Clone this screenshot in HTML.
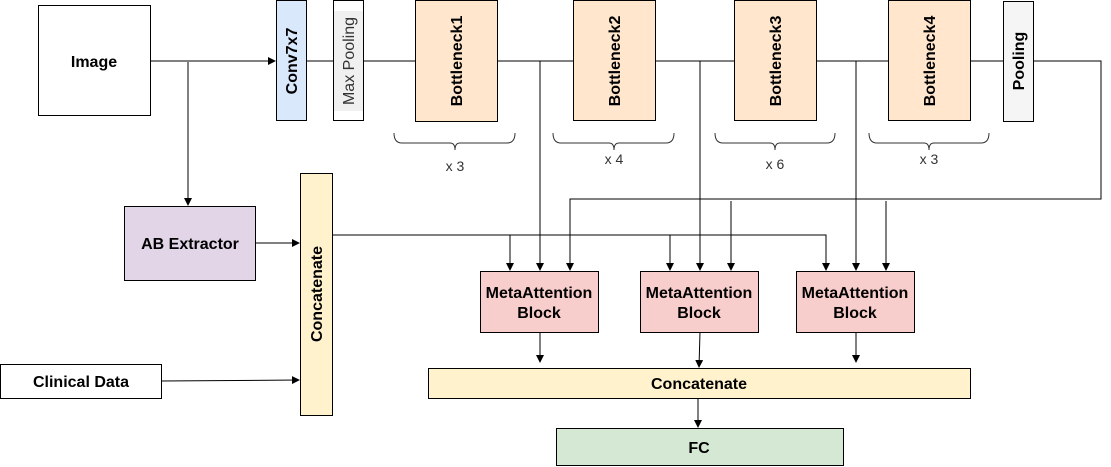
<!DOCTYPE html>
<html><head><meta charset="utf-8"><style>
html,body{margin:0;padding:0;background:#fff;}
svg{display:block;}
text{font-family:"Liberation Sans",Arial,sans-serif;font-size:16px;font-weight:bold;fill:#000;}
.n{font-weight:normal;fill:#333;font-size:14px;}
</style></head><body>
<svg width="1111" height="467" viewBox="0 0 1111 467" xmlns="http://www.w3.org/2000/svg">
<defs><marker id="a" markerWidth="8" markerHeight="8" refX="7" refY="4" orient="auto" markerUnits="userSpaceOnUse"><path d="M0,0 L8,4 L0,8 Z" fill="#000"/></marker></defs>
<g stroke="#000" stroke-width="1" fill="none">
<line x1="150" y1="61" x2="275" y2="61" marker-end="url(#a)"/>
<line x1="306" y1="61" x2="333" y2="61"/>
<line x1="363" y1="61" x2="415" y2="61"/>
<line x1="497" y1="61" x2="573" y2="61"/>
<line x1="655" y1="61" x2="734" y2="61"/>
<line x1="816" y1="61" x2="888" y2="61"/>
<line x1="970" y1="61" x2="1003" y2="61"/>
<polyline points="1033,61 1101,61 1101,199 570,199 570,270" marker-end="url(#a)"/>
<line x1="188" y1="62" x2="188" y2="205" marker-end="url(#a)"/>
<line x1="256" y1="243" x2="299" y2="243" marker-end="url(#a)"/>
<line x1="161" y1="381" x2="299" y2="380" marker-end="url(#a)"/>
<polyline points="333,235 826,235 826,270" marker-end="url(#a)"/>
<line x1="510" y1="235" x2="510" y2="270" marker-end="url(#a)"/>
<line x1="670" y1="235" x2="670" y2="270" marker-end="url(#a)"/>
<line x1="540" y1="61" x2="540" y2="270" marker-end="url(#a)"/>
<line x1="700" y1="61" x2="700" y2="270" marker-end="url(#a)"/>
<line x1="856" y1="61" x2="856" y2="270" marker-end="url(#a)"/>
<line x1="731" y1="201" x2="731" y2="270" marker-end="url(#a)"/>
<line x1="886" y1="201" x2="886" y2="270" marker-end="url(#a)"/>
<line x1="540" y1="332" x2="540" y2="362" marker-end="url(#a)"/>
<line x1="700" y1="332" x2="699" y2="367" marker-end="url(#a)"/>
<line x1="856" y1="332" x2="856" y2="362" marker-end="url(#a)"/>
<line x1="698" y1="398" x2="698" y2="427" marker-end="url(#a)"/>
<g stroke="#333">
<path d="M394,133 Q394,143 402,143 L450,143 Q455,143 455,150 Q455,143 460,143 L507,143 Q515,143 515,133"/>
<path d="M553,133 Q553,143 561,143 L609,143 Q614,143 614,150 Q614,143 619,143 L666,143 Q674,143 674,133"/>
<path d="M715,133 Q715,143 723,143 L770,143 Q775,143 775,150 Q775,143 780,143 L827,143 Q835,143 835,133"/>
<path d="M869,133 Q869,143 877,143 L924,143 Q929,143 929,150 Q929,143 934,143 L981,143 Q989,143 989,133"/>
</g>
</g>
<g stroke="#000" stroke-width="1">
<rect x="38.5" y="5.5" width="112" height="110" fill="#fff"/>
<rect x="276.5" y="0.5" width="30" height="120" fill="#dae8fc"/>
<rect x="333.5" y="0.5" width="30" height="120" fill="#fff"/>
<rect x="415.5" y="0.5" width="82" height="121" fill="#ffe6cc"/>
<rect x="573.5" y="0.5" width="82" height="120" fill="#ffe6cc"/>
<rect x="734.5" y="0.5" width="82" height="120" fill="#ffe6cc"/>
<rect x="888.5" y="0.5" width="82" height="120" fill="#ffe6cc"/>
<rect x="1003.5" y="1.5" width="30" height="120" fill="#f5f5f5"/>
<rect x="124.5" y="206.5" width="131" height="74" fill="#e1d5e7"/>
<rect x="300.5" y="173.5" width="32" height="242" fill="#fff2cc"/>
<rect x="0.5" y="364.5" width="161" height="34" fill="#fff"/>
<rect x="480.5" y="271.5" width="118" height="61" fill="#f8cecc"/>
<rect x="640.5" y="271.5" width="118" height="61" fill="#f8cecc"/>
<rect x="796.5" y="271.5" width="118" height="61" fill="#f8cecc"/>
<rect x="428.5" y="368.5" width="542" height="30" fill="#fff2cc"/>
<rect x="556.5" y="428.5" width="287" height="37" fill="#d5e8d4"/>
</g>
<rect x="334" y="11" width="29" height="100" fill="#f0f0f0"/>
<text x="94" y="67" text-anchor="middle">Image</text>
<text transform="translate(297,61) rotate(-90)" text-anchor="middle">Conv7x7</text>
<text transform="translate(354,61) rotate(-90)" text-anchor="middle" style="font-weight:normal;fill:#333">Max Pooling</text>
<text transform="translate(462,61) rotate(-90)" text-anchor="middle">Bottleneck1</text>
<text transform="translate(620,61) rotate(-90)" text-anchor="middle">Bottleneck2</text>
<text transform="translate(781,61) rotate(-90)" text-anchor="middle">Bottleneck3</text>
<text transform="translate(935,61) rotate(-90)" text-anchor="middle">Bottleneck4</text>
<text transform="translate(1024,61) rotate(-90)" text-anchor="middle">Pooling</text>
<text class="n" x="455" y="171" text-anchor="middle">x 3</text>
<text class="n" x="614" y="164" text-anchor="middle">x 4</text>
<text class="n" x="775" y="169" text-anchor="middle">x 6</text>
<text class="n" x="929" y="164" text-anchor="middle">x 3</text>
<text x="190" y="249" text-anchor="middle">AB Extractor</text>
<text transform="translate(322,294) rotate(-90)" text-anchor="middle">Concatenate</text>
<text x="81" y="387" text-anchor="middle">Clinical Data</text>
<text x="539" y="298" text-anchor="middle">MetaAttention</text>
<text x="539" y="318" text-anchor="middle">Block</text>
<text x="699" y="298" text-anchor="middle">MetaAttention</text>
<text x="699" y="318" text-anchor="middle">Block</text>
<text x="855" y="298" text-anchor="middle">MetaAttention</text>
<text x="855" y="318" text-anchor="middle">Block</text>
<text x="699" y="389" text-anchor="middle">Concatenate</text>
<text x="699" y="453" text-anchor="middle">FC</text>
</svg>
</body></html>
